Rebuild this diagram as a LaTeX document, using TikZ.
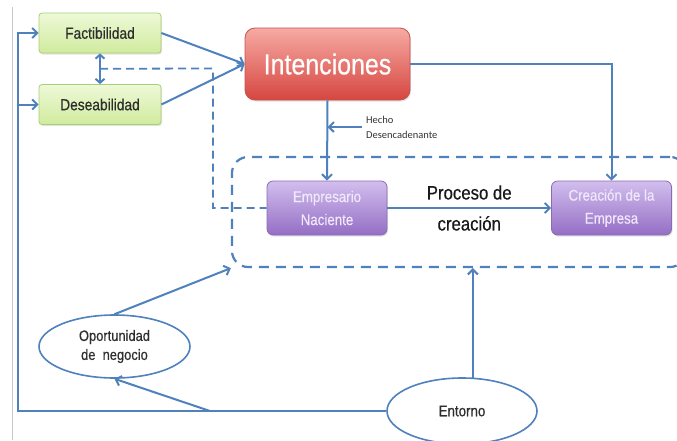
\documentclass[tikz,border=0pt]{standalone}
\usepackage{fontspec}
\setmainfont{Liberation Sans}[FakeStretch=0.86, FakeBold=0.5]
\newfontfamily\notefont{Carlito}
\usetikzlibrary{arrows.meta,shapes.geometric,shadows,calc}

\definecolor{linkblue}{RGB}{79,129,189}
\definecolor{greentop}{RGB}{238,249,216}
\definecolor{greenbot}{RGB}{208,235,158}
\definecolor{greenedge}{RGB}{170,206,112}
\definecolor{redtop}{RGB}{247,170,164}
\definecolor{redbot}{RGB}{214,70,64}
\definecolor{rededge}{RGB}{196,82,78}
\definecolor{purptop}{RGB}{210,190,238}
\definecolor{purpbot}{RGB}{148,110,196}
\definecolor{purpedge}{RGB}{138,108,180}
\definecolor{purptext}{RGB}{240,232,250}
\definecolor{framegray}{RGB}{200,200,200}

\tikzset{
  x=1pt, y=-1pt,
  softshadow/.style={drop shadow={opacity=0.22, shadow xshift=1pt, shadow yshift=-1.5pt}},
  greenbox/.style={draw=greenedge, line width=0.8pt, rounded corners=3pt,
    top color=greentop, bottom color=greenbot, softshadow,
    minimum width=122pt, minimum height=40pt, inner sep=0pt,
    font=\fontsize{16}{18}\selectfont, text=black!82},
  redbox/.style={draw=rededge, line width=0.8pt, rounded corners=10pt,
    top color=redtop, bottom color=redbot, softshadow,
    minimum width=165pt, minimum height=72pt, inner sep=0pt,
    font=\fontsize{29}{32}\selectfont, text=white},
  purplebox/.style={draw=purpedge, line width=0.8pt, rounded corners=6pt,
    top color=purptop, bottom color=purpbot, softshadow,
    minimum width=120pt, minimum height=54pt, inner sep=0pt, align=center,
    font=\fontsize{15.5}{23}\selectfont, text=purptext},
  oval/.style={ellipse, draw=linkblue, line width=1.6pt, fill=white,
    inner sep=0pt, align=center, text=black!82},
  link/.style={draw=linkblue, line width=2pt,
    -{Straight Barb[length=5pt,width=10pt]}},
  twoway/.style={draw=linkblue, line width=2pt,
    {Straight Barb[length=4pt,width=9pt]}-{Straight Barb[length=4pt,width=9pt]}},
  dashlink/.style={draw=linkblue, line width=1.8pt, dash pattern=on 8pt off 5pt},
  processframe/.style={draw=linkblue, line width=2.2pt, dash pattern=on 10pt off 7pt,
    rounded corners=16pt, minimum width=454pt, minimum height=110pt},
}

\begin{document}
\begin{tikzpicture}
\useasboundingbox (0,0) rectangle (677,440);

% page edge line on the left
\draw[framegray, line width=0.8pt] (12,7) -- (12,440);

% dashed frame around the creation process
\node[processframe] (proc) at (459,212) {};

% boxes
\node[greenbox] (fact) at (100,33) {Factibilidad};
\node[greenbox] (des) at (100,104.5) {Deseabilidad};
\node[redbox] (int) at (327.5,64) {Intenciones};
\node[purplebox] (emp) at (327,208) {Empresario\\Naciente};
\node[purplebox] (cre) at (611.5,208) {Creación de la\\Empresa};

% ellipses
\node[oval, minimum width=151pt, minimum height=63pt,
      font=\fontsize{15}{24}\selectfont] (opo) at (114.5,346.5)
      {\raisebox{-2pt}{\shortstack{Oportunidad\\[2pt]de\ \ negocio}}};
\node[oval, minimum width=150pt, minimum height=66pt,
      font=\fontsize{15.5}{18}\selectfont] (ent) at (462,411) {Entorno};

% feasibility / desirability towards intentions
\draw[link] (fact.east) -- (int.west);
\draw[link] (des.east) -- (int.west);
\draw[twoway] (fact.south) -- (des.north);

% dashed feedback to the nascent entrepreneur
\coordinate (mid) at ($(fact.south)!0.5!(des.north)$);
\coordinate (dk) at (213,68.5);
\draw[dashlink] (mid) -- (dk) |- (emp.west);

% intentions towards the process
\draw[link] (int.south) -- (emp.north);
\draw[link] (int.east) -| (cre.north);

% triggering event
\coordinate (hd) at (362,127);
\draw[link] (hd) -- (hd -| int.south);
\node[anchor=west, align=left, inner sep=0pt, text=black!80,
      font=\notefont\fontsize{10.5}{15}\selectfont] (hdtext) at (366,127.5)
      {Hecho\\Desencadenante};

% creation process
\draw[link] (emp.east) -- (cre.west)
  node[midway, align=center, text=black!90, font=\fontsize{19.5}{31}\selectfont] (proctext)
  {Proceso de\\creación};

% environment loop
\coordinate (bl) at (18,411);
\draw[link] (ent.west) -- (bl) |- (fact.west);
\draw[link] (bl |- des.west) -- (des.west);
\coordinate (bp) at (210,411);
\draw[link] (bp) -- (opo.south);
\draw[link] (opo.north) -- (proc.south west);
\draw[link] (ent.72) -- (ent.72 |- proc.south);

\end{tikzpicture}
\end{document}
